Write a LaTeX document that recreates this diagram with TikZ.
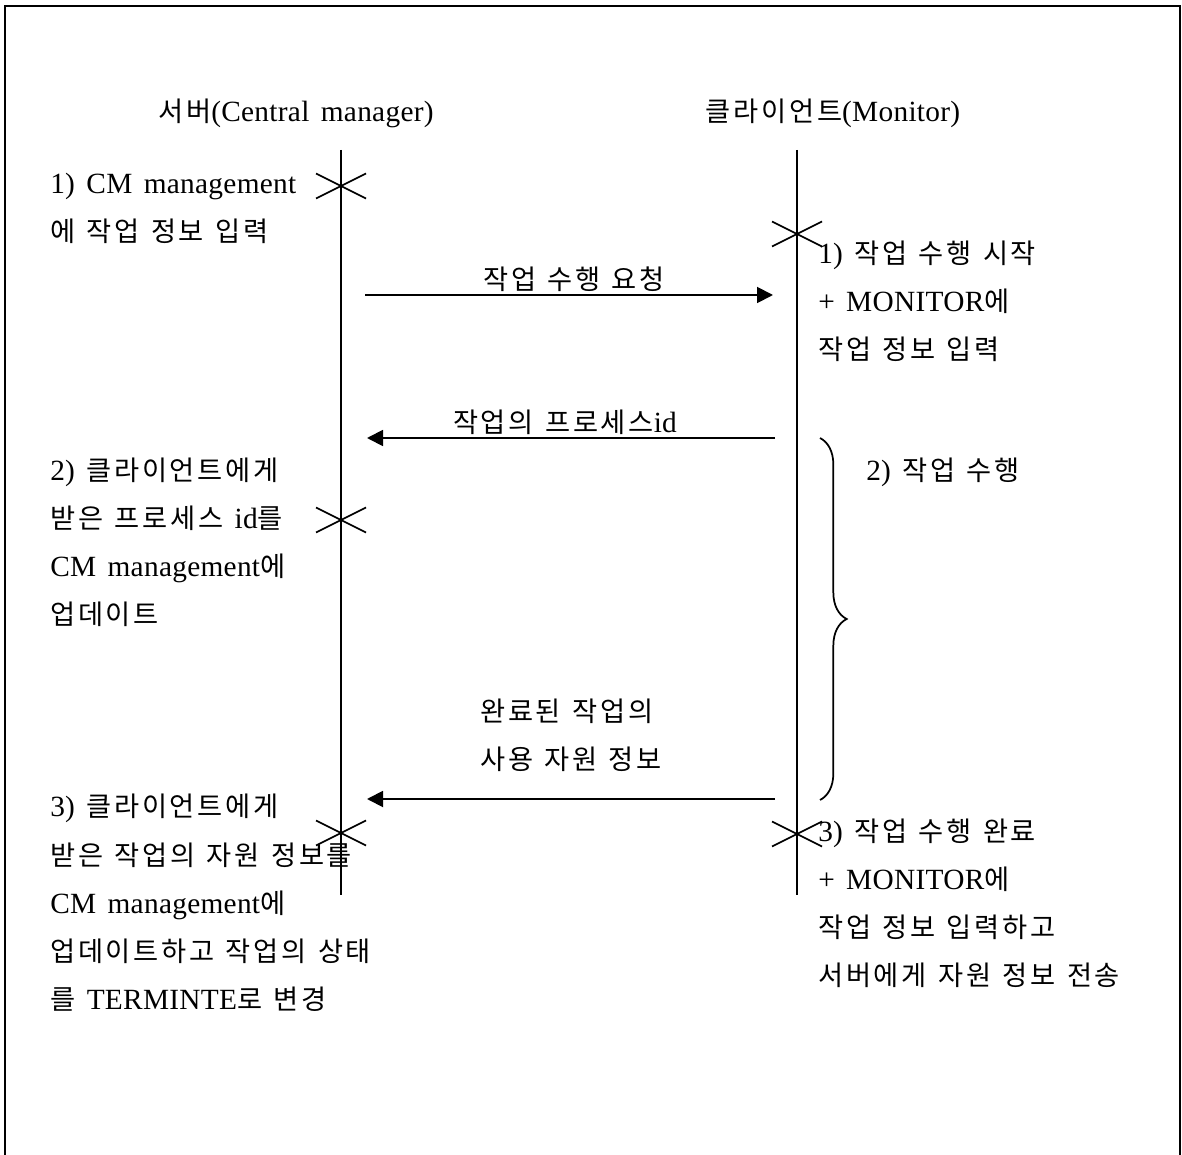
\documentclass[tikz,border=0pt]{standalone}
\usepackage{fontspec}
\setmainfont{Liberation Serif}[LetterSpace=1,WordSpace=1.5]
\newfontfamily\latfont{Liberation Serif}[LetterSpace=1,WordSpace=1.5]
\newfontfamily\krfont{Noto Sans CJK KR}[Scale=0.93,LetterSpace=10]
\usetikzlibrary{arrows.meta,decorations.pathreplacing}
\XeTeXinterchartokenstate=1
\chardef\krcls=7
\count255="AC00
\loop
  \XeTeXcharclass\count255=\krcls
  \ifnum\count255<"D7A3 \advance\count255 by 1
\repeat
\XeTeXinterchartoks 0 \krcls = {\krfont}
\XeTeXinterchartoks \krcls 0 = {\latfont}
\XeTeXinterchartoks 4095 \krcls = {\krfont}
\XeTeXinterchartoks \krcls 4095 = {\latfont}
\begin{document}
\begin{tikzpicture}[x=0.75pt,y=-0.75pt,
  lbl/.style={inner sep=0pt, anchor=base west, font=\fontsize{22pt}{24pt}\selectfont},
  clbl/.style={lbl, anchor=base},
  life/.style={line width=1.5pt},
  xline/.style={line width=1.3pt},
  msg/.style={line width=1.4pt, -{Triangle[length=12pt,width=12pt]}},
  frame/.style={line width=1.6pt}]
\useasboundingbox (0,0) rectangle (1182,1155);
\draw[frame] (5,1160) -- (5,6) -- (1180,6) -- (1180,1160);

% lifelines
\coordinate (s0) at (341,150); \coordinate (s1) at (341,895);
\coordinate (c0) at (797,150); \coordinate (c1) at (797,895);
\draw[life] (s0) -- (s1);
\draw[life] (c0) -- (c1);

% cross marks
\coordinate (sx1) at (341,186);
\coordinate (cx1) at (797,234);
\coordinate (sx2) at (341,520);
\coordinate (sx3) at (341,833);
\coordinate (cx2) at (797,834);
\foreach \p in {sx1,cx1,sx2,sx3,cx2}{
  \draw[xline] ([shift={(-25,-12.5)}]\p) -- ([shift={(25,12.5)}]\p);
  \draw[xline] ([shift={(-25,12.5)}]\p) -- ([shift={(25,-12.5)}]\p);
}

% messages
\coordinate (a1s) at (365,295); \coordinate (a1e) at (773,295);
\coordinate (a2s) at (775,438); \coordinate (a2e) at (367,438);
\coordinate (a3s) at (775,799); \coordinate (a3e) at (367,799);
\draw[msg] (a1s) -- (a1e);
\draw[msg] (a2s) -- (a2e);
\draw[msg] (a3s) -- (a3e);

% brace
\coordinate (b0) at (820,438); \coordinate (b1) at (820,800);
\draw[line width=1.3pt, decorate, decoration={brace, amplitude=20pt}] (b0) -- (b1);

% headers
\node[clbl] (hs) at (296,122) {서버(Central manager)};
\node[clbl] (hc) at (833,122) {클라이언트(Monitor)};

% left texts
\node[lbl] (l1a) at (50,194) {1) CM management};
\node[lbl] (l1b) at (50,242) {에 작업 정보 입력};
\node[lbl] (l2a) at (50,480) {2) 클라이언트에게};
\node[lbl] (l2b) at (50,528) {받은 프로세스 id를};
\node[lbl] (l2c) at (50,576) {CM management에};
\node[lbl] (l2d) at (50,624) {업데이트};
\node[lbl] (l3a) at (50,816) {3) 클라이언트에게};
\node[lbl] (l3b) at (50,865) {받은 작업의 자원 정보를};
\node[lbl] (l3c) at (50,913) {CM management에};
\node[lbl] (l3d) at (50,961) {업데이트하고 작업의 상태};
\node[lbl] (l3e) at (50,1009) {를 TERMINTE로 변경};

% right texts
\node[lbl] (r1a) at (818,264) {1) 작업 수행 시작};
\node[lbl] (r1b) at (818,312) {+ MONITOR에};
\node[lbl] (r1c) at (818,360) {작업 정보 입력};
\node[lbl] (r2a) at (866,480) {2) 작업 수행};
\node[lbl] (r3a) at (818,841) {3) 작업 수행 완료};
\node[lbl] (r3b) at (818,889) {+ MONITOR에};
\node[lbl] (r3c) at (818,937) {작업 정보 입력하고};
\node[lbl] (r3d) at (818,985) {서버에게 자원 정보 전송};

% message labels
\node[clbl] (m1) at (574,290) {작업 수행 요청};
\node[clbl] (m2) at (565,433) {작업의 프로세스id};
\node[lbl] (m3a) at (480,721) {완료된 작업의};
\node[lbl] (m3b) at (480,769) {사용 자원 정보};
\end{tikzpicture}
\end{document}
